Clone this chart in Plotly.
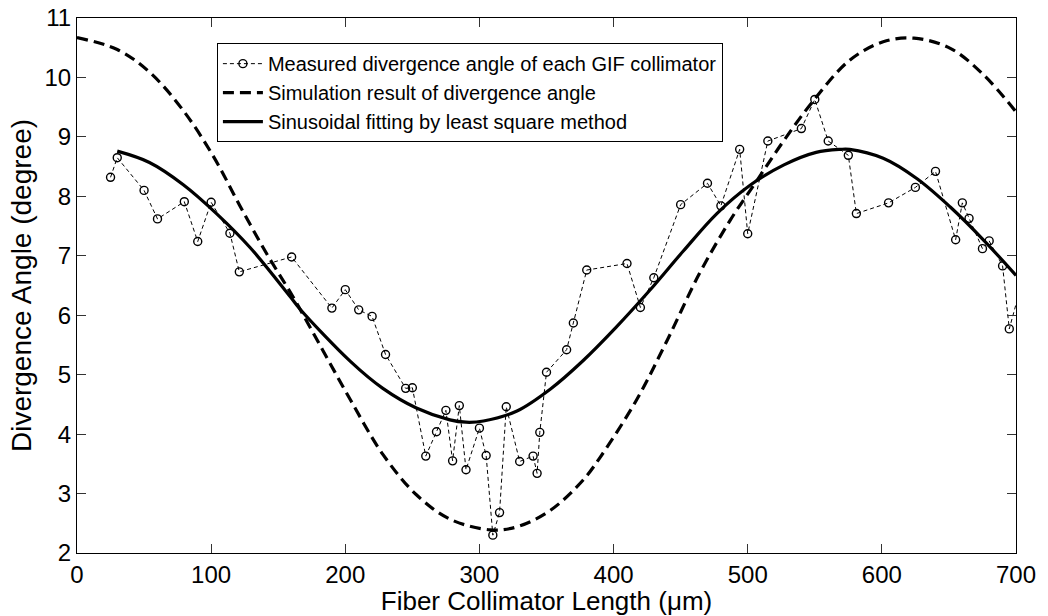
import plotly.graph_objects as go

# Measured divergence angle of each GIF collimator
meas_x = [25, 30, 50, 60, 80, 90, 100, 114, 121, 160, 190, 200, 210, 220, 230, 245, 250,
          260, 268, 275, 280, 285, 290, 300, 305, 310, 315, 320, 330, 340, 343, 345, 350,
          365, 370, 380, 410, 420, 430, 450, 470, 480, 494, 500, 515, 540, 550, 560, 575,
          581, 605, 625, 640, 655, 660, 665, 675, 680, 690, 695, 705]
meas_y = [8.32, 8.65, 8.10, 7.62, 7.91, 7.24, 7.90, 7.38, 6.73, 6.98, 6.12, 6.43, 6.09, 5.98,
          5.34, 4.77, 4.78, 3.63, 4.04, 4.40, 3.55, 4.48, 3.40, 4.10, 3.64, 2.30, 2.68, 4.46,
          3.54, 3.63, 3.34, 4.03, 5.04, 5.42, 5.87, 6.76, 6.87, 6.13, 6.63, 7.86, 8.22, 7.84,
          8.79, 7.37, 8.93, 9.14, 9.63, 8.93, 8.69, 7.71, 7.89, 8.15, 8.42, 7.27, 7.89, 7.63,
          7.12, 7.25, 6.83, 5.77, 6.60]

# Simulation result of divergence angle
sim_x = [0, 30, 54, 79, 102, 121, 141, 161, 183, 204, 228, 253, 278, 308, 328, 353, 377,
         390, 417, 440, 464, 487, 507, 527, 549, 576, 601, 624, 651, 676, 700]
sim_y = [10.67, 10.47, 10.09, 9.45, 8.66, 7.86, 7.05, 6.31, 5.42, 4.57, 3.66, 2.98, 2.57,
         2.39, 2.44, 2.72, 3.22, 3.61, 4.57, 5.58, 6.70, 7.60, 8.27, 8.94, 9.61, 10.29,
         10.60, 10.66, 10.49, 10.04, 9.42]

# Sinusoidal fitting by least square method
fit_x = [30, 54, 79, 104, 129, 159, 166, 204, 228, 253, 278, 290, 303, 328, 353, 377, 402,
         427, 452, 477, 502, 527, 551, 569, 576, 601, 626, 651, 676, 700]
fit_y = [8.76, 8.57, 8.20, 7.71, 7.14, 6.31, 6.11, 5.22, 4.77, 4.44, 4.24, 4.20, 4.22,
         4.39, 4.76, 5.23, 5.80, 6.42, 7.08, 7.71, 8.19, 8.53, 8.74, 8.79, 8.79, 8.64,
         8.30, 7.82, 7.26, 6.67]

x_ticks = [0, 100, 200, 300, 400, 500, 600, 700]
y_ticks = [2, 3, 4, 5, 6, 7, 8, 9, 10, 11]

FONT = "Liberation Sans, Arial, sans-serif"

fig = go.Figure()
fig.add_trace(go.Scatter(
    x=meas_x, y=meas_y, mode="lines+markers",
    name="Measured divergence angle of each GIF collimator",
    line=dict(color="black", width=1, dash="4px,3px"),
    marker=dict(symbol="circle-open", size=8, color="black", line=dict(width=1.4, color="black")),
))
fig.add_trace(go.Scatter(
    x=sim_x, y=sim_y, mode="lines",
    name="Simulation result of divergence angle",
    line=dict(color="black", width=3.2, dash="11px,6px", shape="spline", smoothing=1.0),
))
fig.add_trace(go.Scatter(
    x=fit_x, y=fit_y, mode="lines",
    name="Sinusoidal fitting by least square method",
    line=dict(color="black", width=3.2, shape="spline", smoothing=1.0),
))

axis_common = dict(
    showline=True, linecolor="black", linewidth=1, mirror="ticks",
    ticks="inside", ticklen=9, tickwidth=1, tickcolor="#333333",
    showgrid=False, zeroline=False,
    tickfont=dict(family=FONT, size=24, color="black"),
)

fig.update_xaxes(
    range=[0, 700], tickvals=x_ticks, ticktext=[str(v) for v in x_ticks],
    title=dict(text="Fiber Collimator Length (\u03bcm)", font=dict(family=FONT, size=26, color="black"), standoff=0),
    **axis_common,
)
fig.update_yaxes(
    range=[2, 11], tickvals=y_ticks, ticktext=[str(v) for v in y_ticks],
    title=dict(text="Divergence Angle (degree)", font=dict(family=FONT, size=28, color="black"), standoff=4),
    **axis_common,
)

fig.update_layout(
    width=1048, height=616,
    margin=dict(l=77, r=32, t=18, b=63, autoexpand=False),
    paper_bgcolor="white", plot_bgcolor="white",
    font=dict(family=FONT, color="black"),
    showlegend=True,
    legend=dict(
        x=0.149, y=0.953, xanchor="left", yanchor="top",
        bgcolor="white", bordercolor="black", borderwidth=1,
        font=dict(family=FONT, size=20, color="black"),
        itemwidth=40, tracegroupgap=0,
    ),
)

fig.write_html("out.html")
